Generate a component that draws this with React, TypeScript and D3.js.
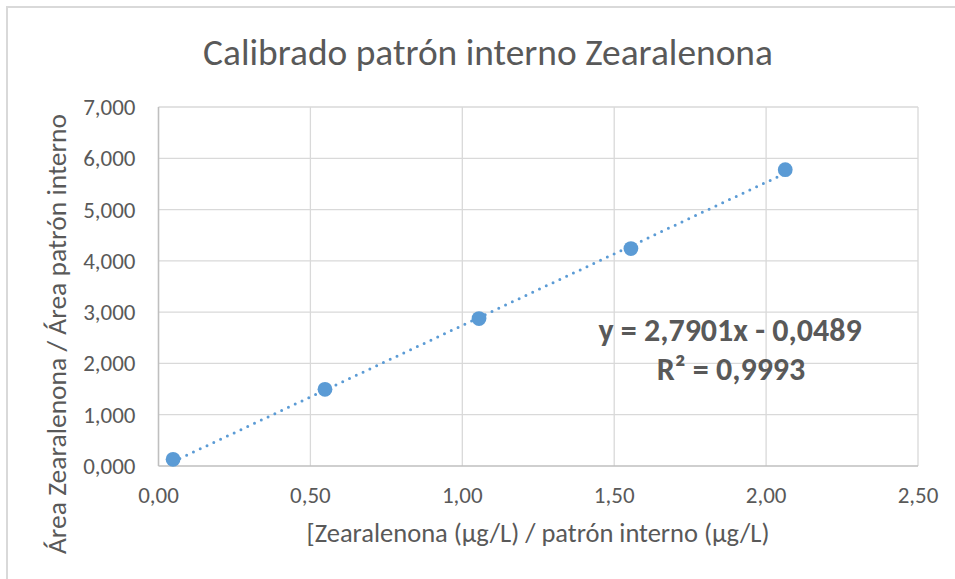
import React, { useEffect, useRef } from "react";
import * as d3 from "d3";

const WIDTH = 955;
const HEIGHT = 579;
const MARGIN = { top: 107, right: 37, bottom: 113, left: 158.5 };

// ratio de concentración (x) vs ratio de área (y)
const concRatio = [0.048, 0.548, 1.055, 1.555, 2.063];
const areaRatio = [0.13, 1.495, 2.875, 4.24, 5.778];

const xTicks = [0, 0.5, 1, 1.5, 2, 2.5];
const yTicks = [0, 1, 2, 3, 4, 5, 6, 7];

const SLOPE = 2.7901;
const INTERCEPT = -0.0489;
const R2 = 0.9993;

const FONT = "Carlito, Calibri, 'Open Sans', sans-serif";
const TEXT_COLOR = "#595959";
const BLUE = "#5B9BD5";

const fmt = (d: number, digits: number) => d.toFixed(digits).replace(".", ",");

export default function App() {
  const ref = useRef<SVGGElement>(null);
  const boundsWidth = WIDTH - MARGIN.left - MARGIN.right;
  const boundsHeight = HEIGHT - MARGIN.top - MARGIN.bottom;

  useEffect(() => {
    const g = d3.select(ref.current);
    g.selectAll("*").remove();

    const x = d3.scaleLinear().domain([0, 2.5]).range([0, boundsWidth]);
    const y = d3.scaleLinear().domain([0, 7]).range([boundsHeight, 0]);

    // gridlines
    g.selectAll(".hgrid")
      .data(yTicks.slice(1))
      .enter()
      .append("line")
      .attr("x1", 0)
      .attr("x2", boundsWidth)
      .attr("y1", (d) => y(d))
      .attr("y2", (d) => y(d))
      .attr("stroke", "#d9d9d9")
      .attr("stroke-width", 1.3);

    g.selectAll(".vgrid")
      .data(xTicks.slice(1))
      .enter()
      .append("line")
      .attr("x1", (d) => x(d))
      .attr("x2", (d) => x(d))
      .attr("y1", 0)
      .attr("y2", boundsHeight)
      .attr("stroke", "#d9d9d9")
      .attr("stroke-width", 1.3);

    // axis lines
    g.append("line")
      .attr("x1", 0)
      .attr("x2", boundsWidth)
      .attr("y1", boundsHeight)
      .attr("y2", boundsHeight)
      .attr("stroke", "#bfbfbf")
      .attr("stroke-width", 1.6);
    g.append("line")
      .attr("x1", 0)
      .attr("x2", 0)
      .attr("y1", 0)
      .attr("y2", boundsHeight)
      .attr("stroke", "#bfbfbf")
      .attr("stroke-width", 1.6);

    // tick labels
    g.selectAll(".ylab")
      .data(yTicks)
      .enter()
      .append("text")
      .attr("x", -23)
      .attr("y", (d) => y(d))
      .attr("dy", "0.35em")
      .attr("text-anchor", "end")
      .attr("font-size", 23)
      .attr("font-family", FONT)
      .attr("fill", TEXT_COLOR)
      .text((d) => fmt(d, 3));

    g.selectAll(".xlab")
      .data(xTicks)
      .enter()
      .append("text")
      .attr("x", (d) => x(d))
      .attr("y", boundsHeight + 37)
      .attr("text-anchor", "middle")
      .attr("font-size", 23)
      .attr("font-family", FONT)
      .attr("fill", TEXT_COLOR)
      .text((d) => fmt(d, 2));

    // trendline (lineal, sobre el rango de los datos)
    const x0 = d3.min(concRatio) as number;
    const x1 = d3.max(concRatio) as number;
    g.append("line")
      .attr("x1", x(x0))
      .attr("y1", y(SLOPE * x0 + INTERCEPT))
      .attr("x2", x(x1))
      .attr("y2", y(SLOPE * x1 + INTERCEPT))
      .attr("stroke", BLUE)
      .attr("stroke-width", 3)
      .attr("stroke-linecap", "round")
      .attr("stroke-dasharray", "0 7.5");

    // points
    g.selectAll(".pt")
      .data(concRatio)
      .enter()
      .append("circle")
      .attr("cx", (d) => x(d))
      .attr("cy", (d, i) => y(areaRatio[i]))
      .attr("r", 7.4)
      .attr("fill", BLUE);

    // equation
    g.append("text")
      .attr("x", 730 - MARGIN.left)
      .attr("y", 341 - MARGIN.top)
      .attr("text-anchor", "middle")
      .attr("font-size", 32)
      .attr("font-weight", "bold")
      .attr("font-family", FONT)
      .attr("fill", TEXT_COLOR)
      .text(`y = ${fmt(SLOPE, 4)}x - ${fmt(-INTERCEPT, 4)}`);
    g.append("text")
      .attr("x", 731 - MARGIN.left)
      .attr("y", 380 - MARGIN.top)
      .attr("text-anchor", "middle")
      .attr("font-size", 32)
      .attr("font-weight", "bold")
      .attr("font-family", FONT)
      .attr("fill", TEXT_COLOR)
      .text(`R² = ${fmt(R2, 4)}`);

    // titles
    g.append("text")
      .attr("x", 488 - MARGIN.left)
      .attr("y", 65 - MARGIN.top)
      .attr("text-anchor", "middle")
      .attr("font-size", 37.4)
      .attr("font-family", FONT)
      .attr("fill", TEXT_COLOR)
      .text("Calibrado patrón interno Zearalenona");

    g.append("text")
      .attr("x", 538 - MARGIN.left)
      .attr("y", 542 - MARGIN.top)
      .attr("text-anchor", "middle")
      .attr("font-size", 26.5)
      .attr("font-family", FONT)
      .attr("fill", TEXT_COLOR)
      .text("[Zearalenona (µg/L) / patrón interno (µg/L)");

    g.append("text")
      .attr("transform", "rotate(-90)")
      .attr("x", -(334 - MARGIN.top))
      .attr("y", 66 - MARGIN.left)
      .attr("text-anchor", "middle")
      .attr("font-size", 27.5)
      .attr("font-family", FONT)
      .attr("fill", TEXT_COLOR)
      .text("Área Zearalenona / Área patrón interno");
  }, [boundsWidth, boundsHeight]);

  return (
    <svg
      width={WIDTH}
      height={HEIGHT}
      style={{ position: "absolute", left: 0, top: 0, background: "#fff" }}
    >
      <rect x={7} y={7} width={WIDTH + 10} height={HEIGHT + 10} fill="#fff" stroke="#d9d9d9" strokeWidth={2} />
      <g ref={ref} transform={`translate(${MARGIN.left},${MARGIN.top})`} />
    </svg>
  );
}
